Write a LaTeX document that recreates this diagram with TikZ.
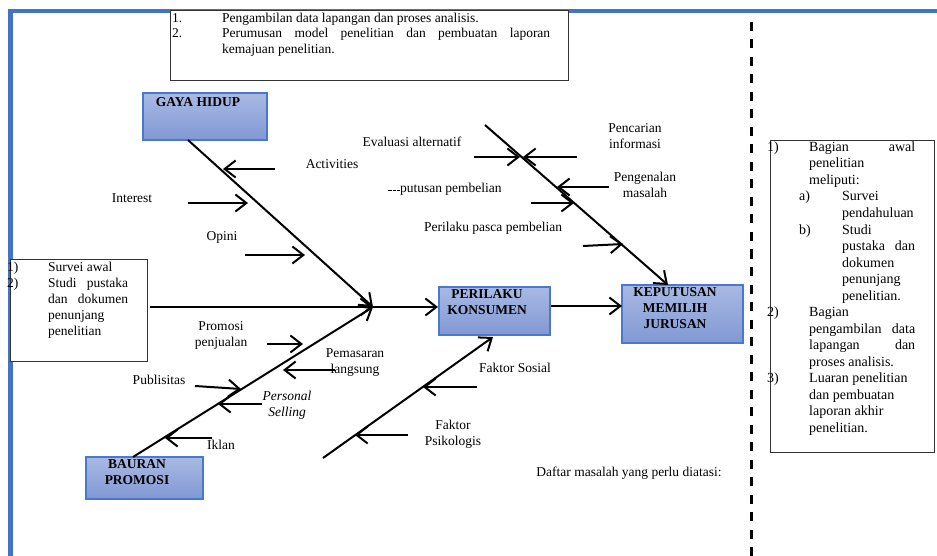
\documentclass[tikz,border=0pt]{standalone}
\usepackage{fontspec}
\setmainfont{Liberation Serif}
\usetikzlibrary{arrows.meta}
\definecolor{frameblue}{HTML}{4472C4}
\definecolor{boxtop}{HTML}{A9B9E3}
\definecolor{boxbot}{HTML}{8198D4}
\definecolor{boxedge}{HTML}{4A78CC}
\tikzset{
  bone/.style={line width=2pt},
  barb/.style={line width=2pt,-{Straight Barb[length=11pt,width=17pt]}},
  catbox/.style={draw=boxedge,line width=1.2pt,top color=boxtop,bottom color=boxbot,inner sep=0pt},
  lbl/.style={font=\fontsize{13.5}{16}\selectfont,align=center,inner sep=0pt},
  btxt/.style={font=\fontsize{13.5}{16}\selectfont\bfseries,align=center,inner sep=0pt},
  txt/.style={anchor=base west,inner sep=0pt,font=\fontsize{13.5}{16}\selectfont},
  rtxt/.style={anchor=base west,inner sep=0pt,font=\fontsize{14}{16.5}\selectfont},
  plainbox/.style={draw=black!80,line width=1pt,fill=white,inner sep=0pt,anchor=north west},
}
\begin{document}
\begin{tikzpicture}[x=1pt,y=-1pt]
\useasboundingbox (0,0) rectangle (937,556);
% frame
\draw[frameblue,line width=4.5pt] (10.5,556) -- (10.5,11) -- (937,11);
% dashed separator
\draw[line width=3pt,dash pattern=on 9pt off 8.5pt] (751,22) -- (751,556);

% top box
\node[plainbox,minimum width=398pt,minimum height=70pt] (tb) at (170,10) {};
\node[txt] (tb1n) at (172,22.5) {1.};
\node[txt] (tb1) at (222,22.5) {Pengambilan data lapangan dan proses analisis.};
\node[txt] (tb2n) at (172,38) {2.};
\node[txt] (tb2) at (222,38) {\makebox[328pt][s]{Perumusan model penelitian dan pembuatan laporan}};
\node[txt] (tb3) at (222,53.5) {kemajuan penelitian.};

% left box
\node[plainbox,minimum width=137pt,minimum height=102pt] (lb) at (10,259) {};
\node[txt] (lb1n) at (7,271) {1)};
\node[txt] (lb1) at (48,271) {Survei awal};
\node[txt] (lb2n) at (7,287) {2)};
\node[txt] (lb2) at (48,287) {\makebox[80pt][s]{Studi\hfill pustaka}};
\node[txt] (lb3) at (48,303) {\makebox[80pt][s]{dan\hfill dokumen}};
\node[txt] (lb4) at (48,319) {penunjang};
\node[txt] (lb5) at (48,335) {penelitian};

% right box
\node[plainbox,minimum width=164pt,minimum height=312pt] (rb) at (770,140) {};
\node[rtxt] (r0n) at (767,151.5) {1)};
\node[rtxt] (r0) at (809,151.5) {\makebox[106pt][s]{Bagian\hfill awal}};
\node[rtxt] (r1) at (809,168) {penelitian};
\node[rtxt] (r2) at (809,184.5) {meliputi:};
\node[rtxt] (r3n) at (799,201) {a)};
\node[rtxt] (r3) at (842,201) {Survei};
\node[rtxt] (r4) at (842,217.5) {pendahuluan};
\node[rtxt] (r5n) at (799,234) {b)};
\node[rtxt] (r5) at (842,234) {Studi};
\node[rtxt] (r6) at (842,250.5) {\makebox[73pt][s]{pustaka\hfill dan}};
\node[rtxt] (r7) at (842,267) {dokumen};
\node[rtxt] (r8) at (842,283.5) {penunjang};
\node[rtxt] (r9) at (842,300) {penelitian.};
\node[rtxt] (r10n) at (767,316.5) {2)};
\node[rtxt] (r10) at (809,316.5) {Bagian};
\node[rtxt] (r11) at (809,333) {\makebox[106pt][s]{pengambilan\hfill data}};
\node[rtxt] (r12) at (809,349.5) {\makebox[106pt][s]{lapangan\hfill dan}};
\node[rtxt] (r13) at (809,366) {proses analisis.};
\node[rtxt] (r14n) at (767,382.5) {3)};
\node[rtxt] (r14) at (809,382.5) {Luaran penelitian};
\node[rtxt] (r15) at (809,399) {dan pembuatan};
\node[rtxt] (r16) at (809,415.5) {laporan akhir};
\node[rtxt] (r17) at (809,432) {penelitian.};

% category boxes
\node[catbox,minimum width=124pt,minimum height=47pt] (gh) at (205,116.5) {};
\node[btxt] (ght) at (198,102) {GAYA HIDUP};
\node[catbox,minimum width=111pt,minimum height=48pt] (pk) at (494.5,311) {};
\node[btxt] (pkt) at (487,302.5) {PERILAKU\\KONSUMEN};
\node[catbox,minimum width=121pt,minimum height=58pt] (kp) at (682.5,314) {};
\node[btxt] (kpt) at (675,308.5) {KEPUTUSAN\\MEMILIH\\JURUSAN};
\node[catbox,minimum width=117pt,minimum height=42pt] (bp) at (144.5,478) {};
\node[btxt] (bpt) at (137,472) {BAURAN\\PROMOSI};

% key points
\coordinate (J) at (373,307);
\coordinate (gh0) at (188,140);
\coordinate (m0) at (150,307);
\coordinate (bp0) at (133,457);
\coordinate (pkW) at (438,307);
\coordinate (pkE) at (551,306);
\coordinate (kpW) at (622,306);
\coordinate (kd0) at (485,125);
\coordinate (kd1) at (668,285);
\coordinate (fk0) at (323,458);
\coordinate (fk1) at (493,337);

% main bones
\draw[barb] (gh0) -- (J);
\draw[barb] (m0) -- (J);
\draw[barb] (bp0) -- (J);
\draw[barb] (J) -- (pkW);
\draw[barb] (pkE) -- (kpW);
\draw[barb] (kd0) -- (kd1);
\draw[barb] (fk0) -- (fk1);

% gaya hidup ribs
\draw[barb] (275,169) -- (223,169);
\draw[barb] (188,203) -- (248,203);
\draw[barb] (245,255) -- (305,255);
\node[lbl] (l1) at (332,164) {Activities};
\node[lbl] (l2) at (132,198) {Interest};
\node[lbl] (l3) at (222,237) {Opini};

% keputusan ribs
\draw[barb] (474,157) -- (520,157);
\draw[barb] (577,157) -- (523,157);
\draw[barb] (609,187) -- (557,187);
\draw[barb] (531,203) -- (574,203);
\draw[barb] (583,246) -- (623,244);
\node[lbl] (l4) at (412,142) {Evaluasi alternatif};
\node[lbl] (l5) at (635,136.5) {Pencarian\\informasi};
\node[lbl] (l6) at (645,185) {Pengenalan\\masalah};
\node[lbl] (l7) at (445,189) {\rule[1.5pt]{3.2pt}{0.8pt}\hspace{1pt}\rule[1.5pt]{3.2pt}{0.8pt}\hspace{1pt}\rule[1.5pt]{3.2pt}{0.8pt}putusan pembelian};
\node[lbl] (l8) at (493,228) {Perilaku pasca pembelian};

% bauran promosi ribs
\draw[barb] (267,344) -- (303,344);
\draw[barb] (335,370) -- (283,370);
\draw[barb] (195,386) -- (241,389);
\draw[barb] (262,404) -- (218,404);
\draw[barb] (212,438) -- (165,438);
\node[lbl] (l9) at (221,335.5) {Promosi\\penjualan};
\node[lbl] (l10) at (355,363) {Pemasaran\\langsung};
\node[lbl] (l11) at (159,380) {Publisitas};
\node[lbl,font=\fontsize{13.5}{16}\selectfont\itshape] (l12) at (287,405) {Personal\\Selling};
\node[lbl] (l13) at (221,445) {Iklan};

% faktor ribs
\draw[barb] (477,387) -- (423,387);
\draw[barb] (408,435) -- (355,435);
\node[lbl] (l14) at (515,368) {Faktor Sosial};
\node[lbl] (l15) at (453,434) {Faktor\\Psikologis};

\node[lbl,font=\fontsize{13.5}{16}\selectfont] (dm) at (629,473) {Daftar masalah yang perlu diatasi:};
\end{tikzpicture}
\end{document}
